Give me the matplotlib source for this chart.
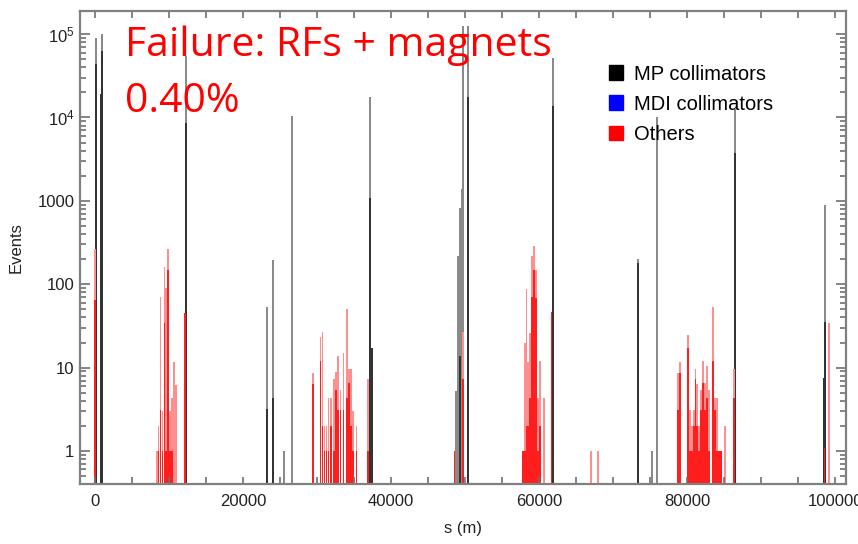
import numpy as np
import matplotlib
matplotlib.use("Agg")
import matplotlib.pyplot as plt
from matplotlib.patches import Patch
from matplotlib.ticker import FixedLocator, FixedFormatter, LogLocator, NullFormatter

# loss positions along the ring (m) and event counts per bin
# "hi" = full bin height (light shade), "lo" = overlapping part (dark shade)
mp_s  = [135, 800, 1000, 12300, 23240, 24050, 25540, 26620, 37160, 37400,
         48790, 49060, 49330, 49600, 49730, 50400, 61900, 73380, 75270,
         75950, 86490, 98500, 98650]
mp_hi = [89000, 19000, 100000, 55000, 53, 194, 1, 10300, 17500, 17,
         5.2, 220, 810, 1400, 126000, 126000, 52000, 200, 1,
         10000, 12700, 7.5, 890]
mp_lo = [44000, 19000, 62000, 8500, 3.2, 4.3, 0, 0, 1070, 17,
         0, 0, 13.7, 0, 0, 17500, 13800, 180, 0,
         0, 3700, 7.5, 35]

oth_s  = [0,
          8380, 8580, 8850, 9120, 9390, 9610, 9840, 10110, 10380, 10650, 10960,
          12160,
          29460, 30470, 30740, 31010, 31280, 31550, 31890, 32300, 32570, 32840,
          33180, 33580, 34050, 34320, 34590, 34860, 35340, 36890,
          48580, 49730,
          57840, 58110, 58310, 58520, 58790, 59060, 59330, 59600, 59870, 60140,
          60680, 61690,
          67030, 67980,
          78830, 79100, 80100, 80370, 80640, 80910, 81150, 81390, 81660, 81930,
          82200, 82480, 82750, 83020, 83480, 83750, 84020, 84290, 84560, 85100,
          86310,
          98580, 99190]
oth_hi = [263,
          1, 2, 70, 3, 163, 90, 262, 3, 4.3, 11.6, 6.2,
          45,
          8.6, 23, 27, 2, 2, 4.3, 4.3, 7.3, 8.8, 13.7,
          5.4, 15, 51, 9.6, 9.6, 3, 2, 7.3,
          1, 27,
          1, 19.6, 87, 11.6, 26, 215, 285, 150, 4.3, 12,
          4.3, 47,
          1, 1,
          8.6, 11.6, 24.5, 3.1, 2, 3.1, 9.6, 6.4, 2, 5.4,
          12, 6.5, 10.4, 5.4, 53, 4.3, 4.3, 1, 1, 2,
          9.6,
          1.1, 34]
oth_lo = [64,
          0, 1, 3.1, 1, 34, 1, 147, 1, 1, 0, 0,
          45,
          6.3, 12, 2, 1, 1, 1, 2, 1, 5.4, 3.1,
          3.1, 3.1, 4.3, 6.5, 2, 1, 1, 1,
          1, 7.3,
          1, 1, 2, 2, 4.3, 70, 150, 68, 1, 2,
          0, 47,
          0, 0,
          3.1, 8.6, 17, 1, 1, 2, 7.3, 2, 1, 3.1,
          6.5, 3.1, 4.3, 1, 12, 3.1, 1, 1, 1, 0,
          4.3,
          1.1, 0]

x_ticks = [0, 20000, 40000, 60000, 80000, 100000]
y_ticks = [1, 10, 100, 1000, 1e4, 1e5]
y_labels = ["1", "10", "100", "1000", "$10^4$", "$10^5$"]

plt.rcParams["font.family"] = ["Liberation Sans", "DejaVu Sans"]
plt.rcParams["mathtext.fontset"] = "custom"
plt.rcParams["mathtext.rm"] = "Liberation Sans"
plt.rcParams["mathtext.it"] = "Liberation Sans"

fig = plt.figure(figsize=(8.58, 5.44), dpi=100)
ax = fig.add_axes([80 / 858, 1 - 484 / 544, 766 / 858, 473 / 544])
ax.set_yscale("log")

bw = 260
ax.bar(mp_s, mp_hi, width=bw, color="#8a8a8a", linewidth=0, bottom=1e-3)
ax.bar(mp_s, mp_lo, width=bw, color="#333333", linewidth=0, bottom=1e-3)
ax.bar(oth_s, oth_hi, width=bw, color="#ff8f8f", linewidth=0, bottom=1e-3)
ax.bar(oth_s, oth_lo, width=bw, color="#ff1e1e", linewidth=0, bottom=1e-3)

ax.set_xlim(-2027, 101486)
ax.set_ylim(0.402, 1.89e5)

ax.xaxis.set_major_locator(FixedLocator(x_ticks))
ax.xaxis.set_minor_locator(FixedLocator(np.arange(0, 101000, 5000)))
ax.yaxis.set_major_locator(FixedLocator(y_ticks))
ax.yaxis.set_major_formatter(FixedFormatter(y_labels))
ax.yaxis.set_minor_locator(LogLocator(base=10, subs=np.arange(2, 10)))
ax.yaxis.set_minor_formatter(NullFormatter())

for sp in ax.spines.values():
    sp.set_color("#808080")
    sp.set_linewidth(1.6)
ax.tick_params(which="both", direction="in", top=True, right=True,
               color="#707070", width=1.2, labelsize=12, labelcolor="#222222")
ax.tick_params(axis="x", which="both", length=5, pad=7)
ax.tick_params(axis="y", which="major", length=7, pad=4)
ax.tick_params(axis="y", which="minor", length=4)

ax.set_xlabel("s (m)", fontsize=12, labelpad=9, color="#222222")
ax.set_ylabel("Events", fontsize=12, labelpad=10, color="#222222")

handles = [Patch(color="#000000", label="MP collimators"),
           Patch(color="#0000ff", label="MDI collimators"),
           Patch(color="#ff0000", label="Others")]
fig.legend(handles=handles, loc="upper left",
           bbox_to_anchor=(609 / 858, 1 - 64.5 / 544), frameon=False,
           fontsize=14.5, handlelength=0.7, handleheight=0.7,
           handletextpad=0.55, labelspacing=0.55, borderpad=0, borderaxespad=0)

fig.text(125 / 858, 1 - 56 / 544, "Failure: RFs + magnets", color="#ff0000",
         fontsize=29.5, family=["Open Sans", "DejaVu Sans"], va="baseline")
fig.text(125 / 858, 1 - 112 / 544, "0.40%", color="#ff0000",
         fontsize=29.5, family=["Open Sans", "DejaVu Sans"], va="baseline")

fig.savefig("out.png", dpi=100)
